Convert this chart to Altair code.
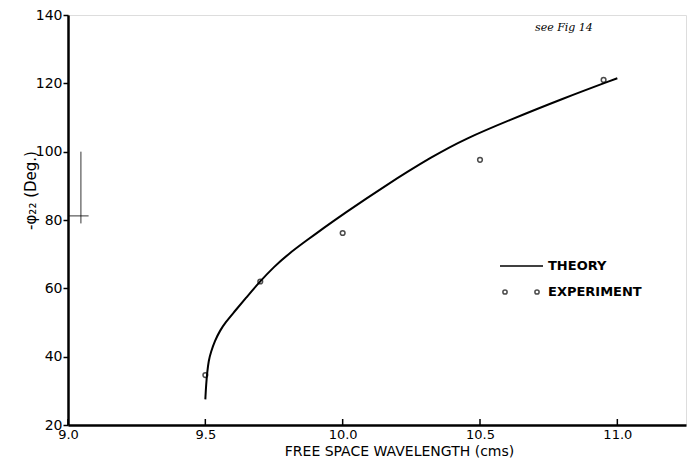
import altair as alt
import pandas as pd

# Theory curve
theory_x = [9.5, 9.503, 9.507, 9.512, 9.52, 9.535, 9.553, 9.575, 9.6, 9.65, 9.7, 9.75, 9.8, 9.87, 9.93, 10.0, 10.15, 10.33, 10.45, 10.6, 10.8, 11.0]
theory_y = [27.5, 32, 35.5, 38.8, 41.3, 44.7, 47.6, 50.2, 52.6, 57.4, 62.1, 66.3, 69.9, 74.1, 77.6, 81.6, 89.8, 98.8, 103.9, 109, 115.5, 121.5]

# Experimental points
exp_x = [9.5, 9.7, 10.0, 10.5, 10.95]
exp_y = [34.6, 62, 76.2, 97.6, 121]

# Axis ticks
x_ticks = [9.0, 9.5, 10.0, 10.5, 11.0]
y_ticks = [20, 40, 60, 80, 100, 120, 140]

# Stray pen marks on the scanned figure (data units)
stray_x = [9.047, 9.0]
stray_x2 = [9.047, 9.075]
stray_y = [100, 81.2]
stray_y2 = [79, 81.2]

legend_labels = ["THEORY", "EXPERIMENT"]
note_text = "see Fig 14"

FONT = "DejaVu Sans"

theory_df = pd.DataFrame({"x": theory_x, "y": theory_y})
exp_df = pd.DataFrame({"x": exp_x, "y": exp_y})
stray_df = pd.DataFrame({"x": stray_x, "x2": stray_x2, "y": stray_y, "y2": stray_y2})
xtick_df = pd.DataFrame({"x": x_ticks})

xscale = alt.Scale(domain=[9.0, 11.25], nice=False, zero=False)
yscale = alt.Scale(domain=[20, 140], nice=False, zero=False)

xaxis = alt.Axis(
    values=x_ticks, format=".1f", title="FREE  SPACE  WAVELENGTH (cms)",
    grid=False, domainColor="black", domainWidth=2.5, ticks=False,
    labelPadding=3, labelFont=FONT, labelFontSize=13, labelFlush=False,
    labelColor="black", titleFont=FONT, titleFontSize=14, titleFontWeight="normal",
    titleColor="black", titleX=331, titleY=26, titleBaseline="middle",
)
yaxis = alt.Axis(
    values=y_ticks, format="d", title="-φ₂₂ (Deg.)",
    grid=False, domainColor="black", domainWidth=2.5, tickColor="black",
    tickSize=5, tickWidth=1.5, labelPadding=1, labelFont=FONT, labelFontSize=14,
    labelFlush=False,
    labelColor="black", titleFont=FONT, titleFontSize=15, titleFontWeight="normal",
    titleColor="black", titleX=-38, titleY=175, titleAngle=-90, titleBaseline="middle",
    titleAlign="center",
)

line = alt.Chart(theory_df).mark_line(color="black", strokeWidth=2, interpolate="basis").encode(
    x=alt.X("x:Q", scale=xscale, axis=xaxis),
    y=alt.Y("y:Q", scale=yscale, axis=yaxis),
)

xticks = alt.Chart(xtick_df).mark_rule(color="black", strokeWidth=1.5).encode(
    x=alt.X("x:Q"), y=alt.value(410), y2=alt.value(404)
)

pts = alt.Chart(exp_df).mark_point(shape="circle", filled=False, color="black", size=22, strokeWidth=1.5).encode(
    x="x:Q", y="y:Q",
)

stray = alt.Chart(stray_df).mark_rule(color="black", strokeWidth=0.8).encode(
    x="x:Q", x2="x2:Q", y="y:Q", y2="y2:Q",
)

# Legend drawn by hand
leg_line = alt.Chart(pd.DataFrame({"label": [legend_labels[0]]})).mark_rule(color="black", strokeWidth=1.5).encode(
    x=alt.value(432), x2=alt.value(475), y=alt.value(251)
)
leg_pt1 = alt.Chart(pd.DataFrame({"label": [legend_labels[1]]})).mark_point(
    shape="circle", filled=False, color="black", size=18, strokeWidth=1.5
).encode(x=alt.value(437), y=alt.value(277))
leg_pt2 = alt.Chart(pd.DataFrame({"label": [legend_labels[1]]})).mark_point(
    shape="circle", filled=False, color="black", size=18, strokeWidth=1.5
).encode(x=alt.value(469), y=alt.value(277))
leg_t1 = alt.Chart(pd.DataFrame({"label": [legend_labels[0]]})).mark_text(
    align="left", baseline="middle", font=FONT, fontSize=13, fontWeight="bold", color="black"
).encode(x=alt.value(480), y=alt.value(251), text="label:N")
leg_t2 = alt.Chart(pd.DataFrame({"label": [legend_labels[1]]})).mark_text(
    align="left", baseline="middle", font=FONT, fontSize=13, fontWeight="bold", color="black"
).encode(x=alt.value(480), y=alt.value(277), text="label:N")

note = alt.Chart(pd.DataFrame({"t": [note_text]})).mark_text(
    align="left", baseline="middle", font="DejaVu Serif", fontSize=11, fontStyle="italic", color="black"
).encode(x=alt.value(467), y=alt.value(13), text="t:N")

chart = alt.layer(line, xticks, pts, stray, leg_line, leg_pt1, leg_pt2, leg_t1, leg_t2, note).properties(
    width=618, height=410,
    autosize=alt.AutoSizeParams(type="none"),
    padding={"left": 60, "top": 7, "right": 5, "bottom": 38},
).configure_view(stroke="black", strokeWidth=2).configure(background="white")

chart.save("out.html", embed_options={"renderer": "svg", "actions": False})
